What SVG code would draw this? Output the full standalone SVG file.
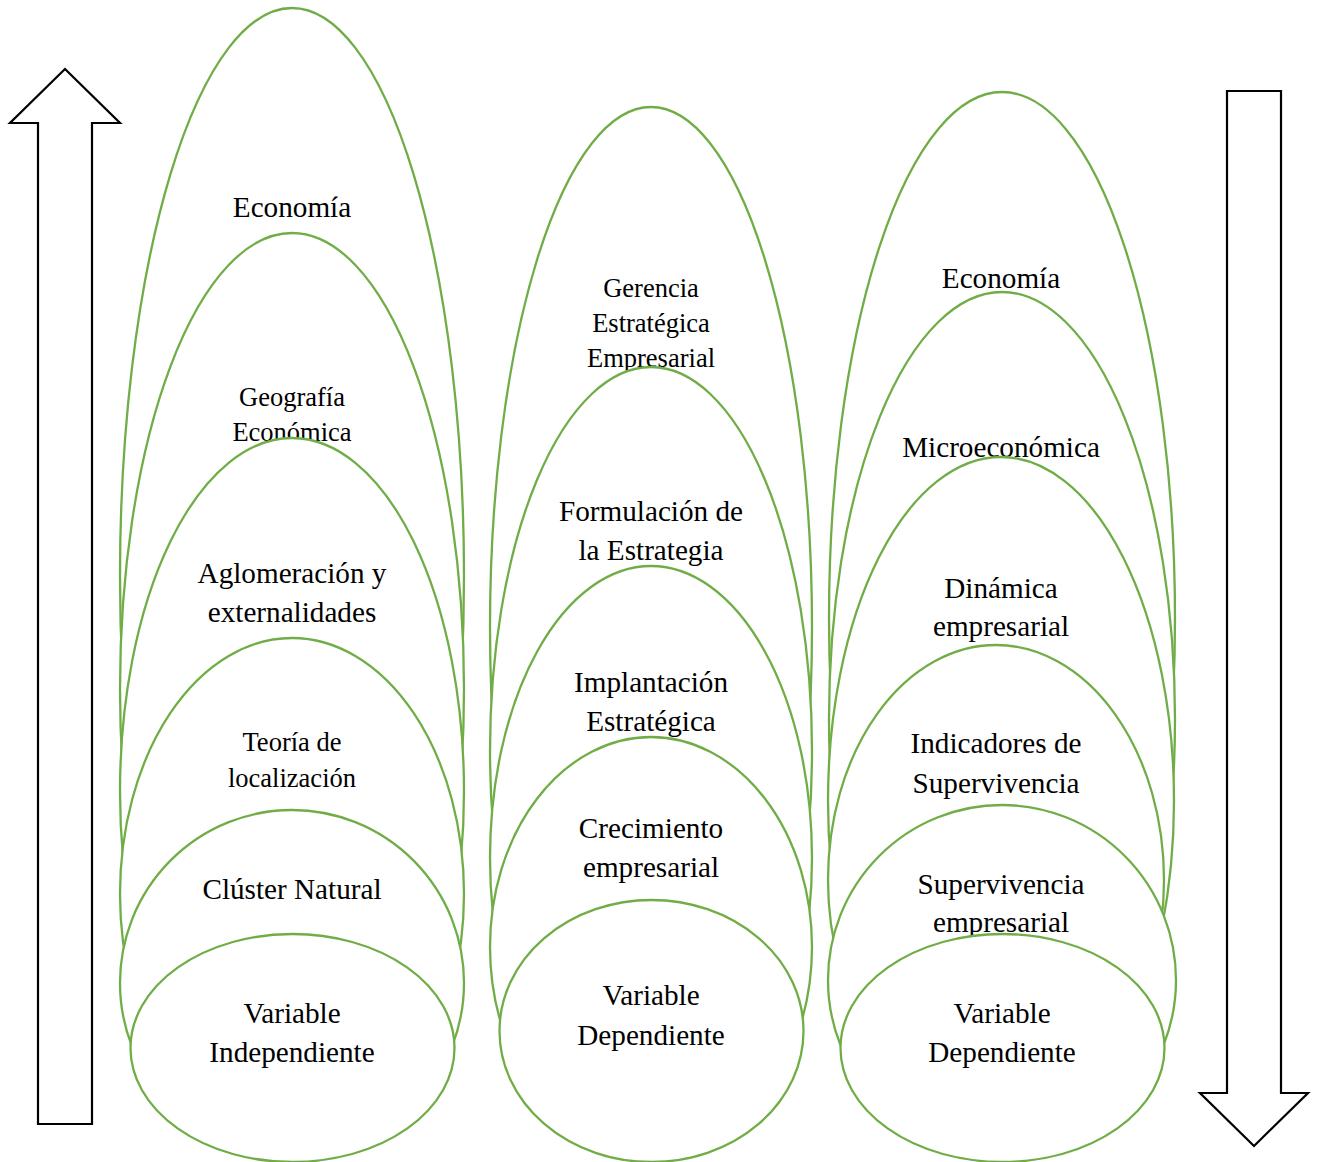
<svg xmlns="http://www.w3.org/2000/svg" width="1317" height="1162" viewBox="0 0 1317 1162">
<style>
.e{fill:#fff;stroke:#70AD47;stroke-width:2.3}
.a{fill:#fff;stroke:#000;stroke-width:2.2;stroke-linejoin:miter}
text{font-family:"Liberation Serif","Times New Roman",serif;fill:#000;text-anchor:middle}
.L{font-size:29.2px}
.S{font-size:26.5px}
</style>
<rect width="1317" height="1162" fill="#fff"/>
<g id="arrows">
<polygon id="arrow-up" class="a" points="65,69 120,123 92,123 92,1124 38,1124 38,123 10,123"/>
<polygon id="arrow-down" class="a" points="1227,91 1281,91 1281,1093 1308,1093 1254,1146 1200,1093 1227,1093"/>
</g>
<g id="col1">
<g id="c1-economia"><ellipse class="e" cx="292" cy="576" rx="172" ry="568"/><text class="L" x="292" y="217">Economía</text></g>
<g id="c1-geografia"><ellipse class="e" cx="292" cy="689" rx="172" ry="456"/><text class="S" x="292" y="406">Geografía</text><text class="S" x="292" y="441">Económica</text></g>
<g id="c1-aglomeracion"><ellipse class="e" cx="292" cy="791.5" rx="172" ry="353.5"/><text class="L" x="292" y="583">Aglomeración y</text><text class="L" x="292" y="622">externalidades</text></g>
<g id="c1-teoria"><ellipse class="e" cx="292" cy="894" rx="172" ry="256"/><text class="S" x="292" y="751">Teoría de</text><text class="S" x="292" y="787">localización</text></g>
<g id="c1-cluster"><ellipse class="e" cx="292" cy="983" rx="172" ry="173"/><text class="L" x="292" y="899">Clúster Natural</text></g>
<g id="c1-variable"><ellipse class="e" cx="292.5" cy="1048" rx="162" ry="114"/><text class="L" x="292" y="1023">Variable</text><text class="L" x="292" y="1062">Independiente</text></g>
</g>
<g id="col2">
<g id="c2-gerencia"><ellipse class="e" cx="651" cy="627" rx="161" ry="520"/><text class="S" x="651" y="297">Gerencia</text><text class="S" x="651" y="332">Estratégica</text><text class="S" x="651" y="367">Empresarial</text></g>
<g id="c2-formulacion"><ellipse class="e" cx="651" cy="751" rx="161" ry="384"/><text class="L" x="651" y="521">Formulación de</text><text class="L" x="651" y="560">la Estrategia</text></g>
<g id="c2-implantacion"><ellipse class="e" cx="651" cy="858" rx="161" ry="292"/><text class="L" x="651" y="692">Implantación</text><text class="L" x="651" y="731">Estratégica</text></g>
<g id="c2-crecimiento"><ellipse class="e" cx="651" cy="947" rx="161" ry="210"/><text class="L" x="651" y="838">Crecimiento</text><text class="L" x="651" y="877">empresarial</text></g>
<g id="c2-variable"><ellipse class="e" cx="651.5" cy="1031" rx="152" ry="131"/><text class="L" x="651" y="1005">Variable</text><text class="L" x="651" y="1045">Dependiente</text></g>
</g>
<g id="col3">
<g id="c3-economia"><ellipse class="e" cx="1002" cy="618" rx="173" ry="526"/><text class="L" x="1001" y="288">Economía</text></g>
<g id="c3-micro"><ellipse class="e" cx="1002" cy="719" rx="173" ry="427"/><text class="L" x="1001" y="457">Microeconómica</text></g>
<g id="c3-dinamica"><ellipse class="e" cx="1001" cy="801" rx="173" ry="344"/><text class="L" x="1001" y="598">Dinámica</text><text class="L" x="1001" y="636">empresarial</text></g>
<g id="c3-indicadores"><ellipse class="e" cx="996" cy="880" rx="168" ry="235"/><text class="L" x="996" y="753">Indicadores de</text><text class="L" x="996" y="793">Supervivencia</text></g>
<g id="c3-supervivencia"><ellipse class="e" cx="1002" cy="980" rx="174" ry="175"/><text class="L" x="1001" y="894">Supervivencia</text><text class="L" x="1001" y="932">empresarial</text></g>
<g id="c3-variable"><ellipse class="e" cx="1002.5" cy="1048" rx="162" ry="114"/><text class="L" x="1002" y="1023">Variable</text><text class="L" x="1002" y="1062">Dependiente</text></g>
</g>
</svg>
